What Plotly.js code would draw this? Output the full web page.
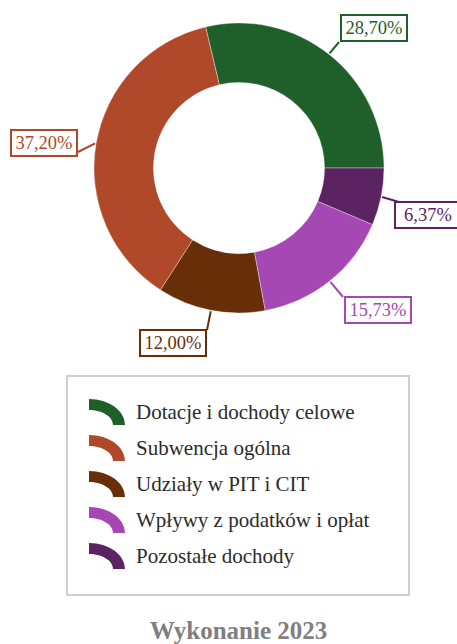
<!DOCTYPE html>
<html><head><meta charset="utf-8">
<script src="https://cdn.plot.ly/plotly-3.0.1.min.js"></script>
<style>html,body{margin:0;padding:0;background:#fff}</style>
</head><body><div id="chart" style="width:457px;height:644px"></div>
<script>
// ---- data ----
const categories = ['Dotacje i dochody celowe','Subwencja ogólna','Udziały w PIT i CIT','Wpływy z podatków i opłat','Pozostałe dochody'];
const values = [28.70, 37.20, 12.00, 15.73, 6.37];
const valueLabels = ['28,70%','37,20%','12,00%','15,73%','6,37%'];
const colors = ['#1f5f2a','#b0482a','#682e08','#a548b3','#5c2363'];
const chartTitle = 'Wykonanie 2023';

// ---- layout helpers ----
const W = 457, H = 644;
const px = x => x / W, py = y => 1 - y / H;
const cx = 239, cy = 168, R = 145;
const FONT = '"Liberation Serif", "Times New Roman", serif';
const labelBox = [[373.5,28.5],[44,143],[172.5,343],[378,310],[428,214.5]];
const lineEnd = [[339,42],[78,152],[207,330],[343,297],[399,202]];

const total = values.reduce((a,b)=>a+b,0);
const shapes = [], annotations = [];
let cum = 0;
values.forEach((v,i)=>{
  const mid = (cum + v/2) / total * 2 * Math.PI; // counterclockwise from 3 o'clock
  cum += v;
  const tx = cx + (R+1)*Math.cos(mid), ty = cy - (R+1)*Math.sin(mid);
  shapes.push({type:'line', xref:'paper', yref:'paper',
    x0:px(tx), y0:py(ty), x1:px(lineEnd[i][0]), y1:py(lineEnd[i][1]),
    line:{color:colors[i], width:2}});
  annotations.push({xref:'paper', yref:'paper', x:px(labelBox[i][0]), y:py(labelBox[i][1]),
    xanchor:'center', yanchor:'middle', showarrow:false, text:valueLabels[i],
    font:{family:FONT, size:18.5, color:colors[i]},
    bgcolor:'#ffffff', bordercolor:colors[i], borderwidth:2, borderpad:2,
    width:60, height:20});
});

// legend box
shapes.push({type:'rect', xref:'paper', yref:'paper', x0:px(67), x1:px(409), y0:py(376), y1:py(595),
  line:{color:'#cfcfcf', width:2}, fillcolor:'rgba(0,0,0,0)'});
// legend items
const k = 0.5523;
categories.forEach((c,i)=>{
  const ex = 89, ey = 425 + 36*i;
  const ro = [36,26], ri = [24,15];
  const P = (x,y)=> px(x).toFixed(5)+','+py(y).toFixed(5);
  const path = 'M'+P(ex, ey-ro[1]) +
    ' C'+P(ex+k*ro[0], ey-ro[1])+' '+P(ex+ro[0], ey-k*ro[1])+' '+P(ex+ro[0], ey) +
    ' L'+P(ex+ri[0], ey) +
    ' C'+P(ex+ri[0], ey-k*ri[1])+' '+P(ex+k*ri[0], ey-ri[1])+' '+P(ex, ey-ri[1]) + ' Z';
  shapes.push({type:'path', xref:'paper', yref:'paper', path:path,
    fillcolor:colors[i], line:{width:0}});
  annotations.push({xref:'paper', yref:'paper', x:px(134), y:py(412 + 36*i),
    xanchor:'left', yanchor:'middle', showarrow:false, text:c,
    font:{family:FONT, size:21, color:'#2b2b2b'}});
});

// Plotly counterclockwise: rotation marks the boundary between the first slice and the second
const rotation = 90 - values[0] / total * 360;

const data = [{
  type:'pie', labels:categories, values:values, hole:0.59,
  sort:false, direction:'counterclockwise', rotation:rotation,
  marker:{colors:colors, line:{color:'rgba(255,255,255,0.35)', width:1}},
  textinfo:'none', hoverinfo:'label+percent', showlegend:false,
  domain:{x:[px(cx-R), px(cx+R)], y:[py(cy+R), py(cy-R)]}
}];

const layout = {
  width:W, height:H, margin:{l:0,r:0,t:0,b:0,pad:0},
  paper_bgcolor:'#ffffff', plot_bgcolor:'#ffffff', showlegend:false,
  title:{text:'<b>'+chartTitle+'</b>', x:px(238.5), xanchor:'center', xref:'paper',
    y:py(630), yanchor:'middle', yref:'paper',
    font:{family:FONT, size:25, color:'#7f7f7f'}},
  shapes:shapes, annotations:annotations
};
Plotly.newPlot('chart', data, layout, {displayModeBar:false, staticPlot:true});
</script></body></html>
